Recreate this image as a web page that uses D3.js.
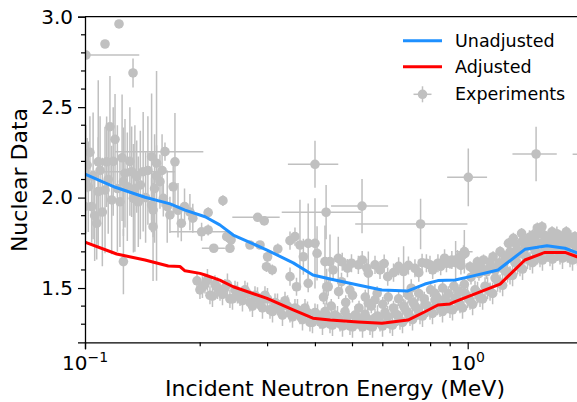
<!DOCTYPE html>
<html>
<head>
<meta charset="utf-8">
<script src="https://cdn.jsdelivr.net/npm/d3@7"></script>
<style>
body { margin: 0; background: white; }
svg { display: block; font-family: "DejaVu Sans", sans-serif; }
</style>
</head>
<body>
<svg id="chart" width="577" height="402"></svg>
<script>
// calculated curves (energy in MeV)
const unadjE = [0.100, 0.120, 0.1435, 0.167, 0.1825, 0.206, 0.225, 0.244, 0.299, 0.350, 0.394, 0.437, 0.517, 0.597, 0.698, 0.773, 0.836, 0.927, 1.014, 1.200, 1.411, 1.611, 1.796, 1.931, 2.0]
const unadjV = [2.130, 2.057, 2.002, 1.965, 1.931, 1.894, 1.849, 1.793, 1.710, 1.639, 1.572, 1.550, 1.517, 1.489, 1.484, 1.522, 1.541, 1.544, 1.563, 1.600, 1.714, 1.734, 1.720, 1.694, 1.680]

const adjE = [0.100, 0.121, 0.1435, 0.165, 0.177, 0.1825, 0.1997, 0.206, 0.225, 0.244, 0.299, 0.350, 0.394, 0.437, 0.517, 0.597, 0.698, 0.773, 0.836, 0.899, 0.927, 1.215, 1.411, 1.592, 1.796, 1.931, 2.0]
const adjV = [1.753, 1.688, 1.655, 1.622, 1.619, 1.595, 1.581, 1.572, 1.544, 1.507, 1.443, 1.379, 1.333, 1.323, 1.312, 1.305, 1.323, 1.369, 1.406, 1.412, 1.425, 1.522, 1.655, 1.697, 1.697, 1.673, 1.660]

// experiments: [energy, value, energy error, value error]
const expSparse = [
    [0.1006, 2.788, 0.038, 0], [0.1128, 2.849, 0, 0], [0.1227, 2.960, 0, 0], [0.1335, 2.689, 0, 0.08],
    [0.1618, 2.254, 0.042, 0.05], [0.1419, 2.143, 0.03, 0.33], [0.2017, 1.811, 0.035, 0.05],
    [0.2826, 1.891, 0.04, 0], [0.399, 2.184, 0.06, 0.13], [0.4266, 1.919, 0.1, 0.15],
    [0.5295, 1.953, 0.09, 0.15], [0.7532, 1.854, 0.245, 0.14], [1.0036, 2.112, 0.12, 0.16],
    [1.509, 2.241, 0.2, 0.15], [2.10, 2.24, 0.22, 0.15], [0.98, 1.701, 0.05, 0.12],
    [0.93, 1.64, 0, 0.12], [0.217, 1.720, 0.015, 0.02]
]

const expLowEnergy = [
    [0.1013, 2.180, 0, 0.15], [0.1020, 2.060, 0, 0.25], [0.1000, 1.950, 0, 0.25], [0.1041, 1.950, 0, 0.20],
    [0.1073, 1.858, 0, 0.20], [0.1083, 2.198, 0, 0.45], [0.1083, 2.033, 0, 0.30], [0.1128, 2.042, 0, 0.35],
    [0.1139, 2.198, 0, 0.25], [0.1162, 2.392, 0, 0.28], [0.1174, 1.987, 0, 0.30], [0.1198, 2.322, 0, 0.25],
    [0.1234, 1.977, 0, 0.25], [0.1260, 2.088, 0, 0.30], [0.1260, 1.646, 0, 0.18], [0.1272, 2.134, 0, 0.30],
    [0.1324, 2.143, 0, 0.25], [0.1338, 1.996, 0, 0.30], [0.1365, 2.116, 0, 0.20], [0.1378, 1.977, 0, 0.25],
    [0.1493, 2.226, 0, 0.35], [0.1493, 1.959, 0, 0.15], [0.1506, 1.931, 0, 0.15], [0.1506, 1.839, 0, 0.30],
    [0.1538, 2.190, 0, 0.10], [0.1538, 2.120, 0, 0.58], [0.1570, 2.088, 0, 0.15], [0.1602, 1.996, 0, 0.10],
    [0.1667, 1.904, 0, 0.10], [0.1718, 2.198, 0, 0.27], [0.1785, 1.858, 0, 0.10], [0.1913, 1.886, 0, 0.08],
    [0.1005, 2.100, 0, 0.30], [0.1030, 2.250, 0, 0.20], [0.1050, 2.120, 0, 0.35], [0.1060, 1.900, 0, 0.25],
    [0.1095, 2.150, 0, 0.30], [0.1110, 1.920, 0, 0.30], [0.1150, 2.100, 0, 0.30], [0.1185, 2.200, 0, 0.30],
    [0.1215, 2.050, 0, 0.35], [0.1250, 2.220, 0, 0.35], [0.1290, 2.060, 0, 0.30], [0.1310, 2.200, 0, 0.30],
    [0.1350, 2.050, 0, 0.35], [0.1395, 2.070, 0, 0.30], [0.1440, 2.000, 0, 0.25], [0.1460, 2.150, 0, 0.30],
    [0.1520, 2.050, 0, 0.30], [0.1590, 2.150, 0, 0.20], [0.1640, 1.950, 0, 0.20], [0.1700, 2.060, 0, 0.15],
    [0.1750, 1.930, 0, 0.15], [0.1820, 1.950, 0, 0.10], [0.1880, 1.920, 0, 0.10]
]

const expMidEnergy = [
    [0.2293, 1.983, 0, 0.03], [0.2098, 1.917, 0, 0.03], [0.294, 1.871, 0, 0], [0.2098, 1.821, 0, 0.03],
    [0.2346, 1.784, 0, 0.03], [0.2408, 1.766, 0, 0], [0.2392, 1.720, 0, 0], [0.2698, 1.738, 0, 0],
    [0.2866, 1.738, 0, 0], [0.3190, 1.716, 0, 0.03], [0.3433, 1.762, 0, 0.05], [0.3537, 1.784, 0, 0.05],
    [0.3645, 1.738, 0, 0.25], [0.3830, 1.747, 0, 0.22], [0.3990, 1.747, 0, 0.25], [0.372, 1.673, 0, 0.10],
    [0.300, 1.673, 0, 0.03], [0.404, 1.692, 0, 0.15], [0.4237, 1.646, 0, 0.20], [0.3085, 1.600, 0, 0.03],
    [0.2980, 1.618, 0, 0.03], [0.3433, 1.563, 0, 0.05], [0.383, 1.526, 0, 0.05], [0.357, 1.507, 0, 0.05],
    [0.428, 1.507, 0, 0.10], [0.4367, 1.646, 0, 0.15], [0.459, 1.664, 0, 0.12], [0.497, 1.637, 0, 0.05],
    [0.518, 1.628, 0, 0.05], [0.550, 1.582, 0, 0.12], [0.5725, 1.628, 0, 0.05], [0.618, 1.563, 0, 0.05],
    [0.680, 1.591, 0, 0.14], [0.728, 1.609, 0, 0.05], [0.780, 1.637, 0, 0.05], [0.836, 1.637, 0, 0.05],
    [0.909, 1.655, 0, 0.05], [0.432, 1.507, 0, 0.05], [0.468, 1.535, 0, 0.05], [0.712, 1.499, 0, 0.05],
    [0.821, 1.471, 0, 0.05], [0.797, 1.628, 0, 0.05], [0.88, 1.637, 0, 0.05], [0.975, 1.686, 0, 0.05],
    [0.492, 1.489, 0, 0.04], [0.5725, 1.434, 0, 0.04], [0.550, 1.416, 0, 0.04]
]

const expUpperFill = [
    [0.445, 1.600, 0, 0.05], [0.470, 1.645, 0, 0.05], [0.485, 1.610, 0, 0.05], [0.530, 1.655, 0, 0.05],
    [0.545, 1.610, 0, 0.05], [0.590, 1.600, 0, 0.05], [0.605, 1.635, 0, 0.05], [0.640, 1.585, 0, 0.05],
    [0.660, 1.620, 0, 0.05], [0.700, 1.625, 0, 0.05], [0.745, 1.585, 0, 0.05], [0.760, 1.640, 0, 0.05],
    [0.810, 1.600, 0, 0.05], [0.850, 1.620, 0, 0.05], [0.870, 1.665, 0, 0.05], [0.940, 1.660, 0, 0.05],
    [0.960, 1.625, 0, 0.05]
]

const expMidFill = [
    [0.42, 1.45, 0, 0.04], [0.44, 1.40, 0, 0.04], [0.46, 1.48, 0, 0.04], [0.48, 1.42, 0, 0.04],
    [0.50, 1.46, 0, 0.04], [0.52, 1.39, 0, 0.04], [0.54, 1.45, 0, 0.04], [0.56, 1.40, 0, 0.04],
    [0.58, 1.47, 0, 0.04], [0.60, 1.41, 0, 0.04], [0.62, 1.45, 0, 0.04], [0.64, 1.39, 0, 0.04],
    [0.66, 1.44, 0, 0.04], [0.68, 1.40, 0, 0.04], [0.70, 1.46, 0, 0.04], [0.72, 1.42, 0, 0.04],
    [0.745, 1.47, 0, 0.04], [0.77, 1.44, 0, 0.04], [0.80, 1.49, 0, 0.04], [0.83, 1.45, 0, 0.04],
    [0.86, 1.50, 0, 0.04], [0.89, 1.47, 0, 0.04], [0.92, 1.51, 0, 0.04], [0.95, 1.48, 0, 0.04],
    [0.98, 1.52, 0, 0.04]
]

const expHighEnergy = [
    [0.899, 1.637, 0, 0.03], [0.955, 1.673, 0, 0.03], [0.984, 1.692, 0, 0.03], [1.014, 1.618, 0, 0.03],
    [1.06, 1.645, 0, 0.03], [1.10, 1.655, 0, 0.03], [1.144, 1.644, 0, 0.03], [1.165, 1.673, 0, 0.03],
    [1.215, 1.701, 0, 0.03], [1.24, 1.637, 0, 0.03], [1.25, 1.676, 0, 0.03], [1.278, 1.747, 0, 0.03],
    [1.316, 1.775, 0, 0.03], [1.345, 1.710, 0, 0.03], [1.383, 1.802, 0, 0.03], [1.43, 1.756, 0, 0.03],
    [1.479, 1.793, 0, 0.03], [1.52, 1.832, 0, 0.03], [1.563, 1.839, 0, 0.03], [1.62, 1.766, 0, 0.03],
    [1.661, 1.811, 0, 0.03], [1.72, 1.777, 0, 0.03], [1.81, 1.811, 0, 0.03], [1.85, 1.750, 0, 0.03],
    [1.907, 1.784, 0, 0.03],
    [1.02, 1.56, 0, 0.04], [1.04, 1.60, 0, 0.04], [1.07, 1.58, 0, 0.04], [1.09, 1.61, 0, 0.04],
    [1.12, 1.59, 0, 0.04], [1.15, 1.62, 0, 0.04], [1.18, 1.60, 0, 0.04], [1.21, 1.64, 0, 0.04],
    [1.23, 1.61, 0, 0.04], [1.26, 1.66, 0, 0.04], [1.29, 1.70, 0, 0.04], [1.31, 1.66, 0, 0.04],
    [1.34, 1.74, 0, 0.04], [1.36, 1.69, 0, 0.04], [1.39, 1.76, 0, 0.04], [1.41, 1.72, 0, 0.04],
    [1.45, 1.78, 0, 0.04], [1.47, 1.73, 0, 0.04], [1.50, 1.76, 0, 0.04], [1.53, 1.80, 0, 0.04],
    [1.56, 1.75, 0, 0.04], [1.59, 1.79, 0, 0.04], [1.62, 1.74, 0, 0.04], [1.65, 1.78, 0, 0.04],
    [1.68, 1.75, 0, 0.04], [1.71, 1.80, 0, 0.04], [1.75, 1.74, 0, 0.04], [1.78, 1.79, 0, 0.04],
    [1.82, 1.76, 0, 0.04], [1.86, 1.78, 0, 0.04], [1.90, 1.74, 0, 0.04], [1.95, 1.76, 0, 0.04],
    [1.98, 1.72, 0, 0.04]
]

const expBand = [
    [0.1962, 1.54, 0, 0.05], [0.1997, 1.49, 0, 0.05], [0.2058, 1.52, 0, 0.05], [0.2121, 1.46, 0, 0.05],
    [0.2186, 1.52, 0, 0.05], [0.2253, 1.48, 0, 0.05], [0.2321, 1.50, 0, 0.05], [0.2392, 1.44, 0, 0.05],
    [0.2466, 1.49, 0, 0.05], [0.2541, 1.45, 0, 0.05], [0.2618, 1.49, 0, 0.05], [0.2698, 1.42, 0, 0.05],
    [0.2781, 1.46, 0, 0.05], [0.2866, 1.42, 0, 0.05], [0.2953, 1.46, 0, 0.05], [0.3044, 1.38, 0, 0.05],
    [0.3137, 1.42, 0, 0.05], [0.3232, 1.38, 0, 0.05], [0.3331, 1.43, 0, 0.05], [0.3433, 1.36, 0, 0.05],
    [0.3537, 1.39, 0, 0.05], [0.3645, 1.35, 0, 0.05], [0.3757, 1.39, 0, 0.05], [0.3871, 1.31, 0, 0.05],
    [0.3990, 1.365, 0, 0.05], [0.4112, 1.325, 0, 0.05], [0.4237, 1.37, 0, 0.05], [0.4367, 1.30, 0, 0.05],
    [0.4500, 1.35, 0, 0.05], [0.4638, 1.31, 0, 0.05], [0.4779, 1.37, 0, 0.05], [0.4925, 1.29, 0, 0.05],
    [0.5076, 1.35, 0, 0.05], [0.5231, 1.31, 0, 0.05], [0.5391, 1.355, 0, 0.05], [0.5555, 1.29, 0, 0.05],
    [0.5725, 1.335, 0, 0.05], [0.5900, 1.31, 0, 0.05], [0.6080, 1.365, 0, 0.05], [0.6266, 1.30, 0, 0.05],
    [0.6457, 1.36, 0, 0.05], [0.6654, 1.32, 0, 0.05], [0.6857, 1.385, 0, 0.05], [0.7067, 1.34, 0, 0.05],
    [0.7283, 1.40, 0, 0.05], [0.7505, 1.35, 0, 0.05], [0.7734, 1.41, 0, 0.05], [0.7971, 1.375, 0, 0.05],
    [0.8214, 1.435, 0, 0.05], [0.8465, 1.39, 0, 0.05], [0.8724, 1.44, 0, 0.05], [0.8990, 1.385, 0, 0.05],
    [0.9265, 1.445, 0, 0.05], [0.9548, 1.41, 0, 0.05], [0.9839, 1.47, 0, 0.05], [1.014, 1.43, 0, 0.05],
    [1.045, 1.49, 0, 0.05], [1.077, 1.445, 0, 0.05], [1.110, 1.51, 0, 0.05], [1.144, 1.48, 0, 0.05],
    [1.179, 1.555, 0, 0.05], [1.215, 1.525, 0, 0.05], [1.252, 1.595, 0, 0.05], [1.290, 1.57, 0, 0.05],
    [1.329, 1.64, 0, 0.05], [1.370, 1.615, 0, 0.05], [1.411, 1.68, 0, 0.05], [1.455, 1.65, 0, 0.05],
    [1.499, 1.71, 0, 0.05], [1.545, 1.665, 0, 0.05], [1.592, 1.715, 0, 0.05], [1.641, 1.67, 0, 0.05],
    [1.691, 1.725, 0, 0.05], [1.743, 1.68, 0, 0.05], [1.796, 1.73, 0, 0.05], [1.851, 1.665, 0, 0.05],
    [1.907, 1.70, 0, 0.05], [1.965, 1.655, 0, 0.05]
]

const expBand2 = [
    [0.2027, 1.505, 0, 0.06], [0.2089, 1.545, 0, 0.06], [0.2153, 1.455, 0, 0.06], [0.2219, 1.500, 0, 0.06],
    [0.2287, 1.465, 0, 0.06], [0.2356, 1.520, 0, 0.06], [0.2429, 1.440, 0, 0.06], [0.2503, 1.475, 0, 0.06],
    [0.2579, 1.430, 0, 0.06], [0.2657, 1.470, 0, 0.06], [0.2739, 1.400, 0, 0.06], [0.2823, 1.445, 0, 0.06],
    [0.2909, 1.390, 0, 0.06], [0.2998, 1.440, 0, 0.06], [0.3090, 1.370, 0, 0.06], [0.3184, 1.410, 0, 0.06],
    [0.3281, 1.350, 0, 0.06], [0.3382, 1.400, 0, 0.06], [0.3485, 1.340, 0, 0.06], [0.3591, 1.380, 0, 0.06],
    [0.3701, 1.325, 0, 0.06], [0.3814, 1.365, 0, 0.06], [0.3930, 1.310, 0, 0.06], [0.4051, 1.350, 0, 0.06],
    [0.4174, 1.300, 0, 0.06], [0.4302, 1.345, 0, 0.06], [0.4433, 1.295, 0, 0.06], [0.4569, 1.340, 0, 0.06],
    [0.4708, 1.290, 0, 0.06], [0.4852, 1.340, 0, 0.06], [0.5000, 1.285, 0, 0.06], [0.5153, 1.335, 0, 0.06],
    [0.5311, 1.285, 0, 0.06], [0.5473, 1.330, 0, 0.06], [0.5640, 1.285, 0, 0.06], [0.5812, 1.345, 0, 0.06],
    [0.5990, 1.290, 0, 0.06], [0.6173, 1.340, 0, 0.06], [0.6361, 1.295, 0, 0.06], [0.6555, 1.350, 0, 0.06],
    [0.6755, 1.310, 0, 0.06], [0.6962, 1.365, 0, 0.06], [0.7175, 1.325, 0, 0.06], [0.7394, 1.385, 0, 0.06],
    [0.7619, 1.345, 0, 0.06], [0.7852, 1.400, 0, 0.06], [0.8092, 1.360, 0, 0.06], [0.8339, 1.410, 0, 0.06],
    [0.8594, 1.370, 0, 0.06], [0.8857, 1.420, 0, 0.06], [0.9127, 1.380, 0, 0.06], [0.9406, 1.435, 0, 0.06],
    [0.9694, 1.390, 0, 0.06], [0.9990, 1.450, 0, 0.06], [1.030, 1.410, 0, 0.06], [1.061, 1.475, 0, 0.06],
    [1.094, 1.440, 0, 0.06], [1.127, 1.500, 0, 0.06], [1.162, 1.470, 0, 0.06], [1.197, 1.540, 0, 0.06],
    [1.234, 1.515, 0, 0.06], [1.271, 1.590, 0, 0.06], [1.310, 1.570, 0, 0.06], [1.350, 1.635, 0, 0.06],
    [1.391, 1.605, 0, 0.06], [1.433, 1.665, 0, 0.06], [1.477, 1.640, 0, 0.06], [1.522, 1.690, 0, 0.06],
    [1.568, 1.655, 0, 0.06], [1.616, 1.705, 0, 0.06], [1.666, 1.660, 0, 0.06], [1.717, 1.710, 0, 0.06],
    [1.769, 1.665, 0, 0.06], [1.823, 1.700, 0, 0.06], [1.879, 1.655, 0, 0.06], [1.936, 1.685, 0, 0.06]
]

const xTicks = [0.1, 1]
const xTickExp = ["\u22121", "0"]
const xMinor = [0.2, 0.3, 0.4, 0.5, 0.6, 0.7, 0.8, 0.9, 2]
const yTicks = [1.5, 2.0, 2.5, 3.0]
const yMinor = [1.3, 1.4, 1.6, 1.7, 1.8, 1.9, 2.1, 2.2, 2.3, 2.4, 2.6, 2.7, 2.8, 2.9]

const plotLeft = 85, plotTop = 16.7, plotBottom = 342.3
const decade = 382.7
const plotRight = plotLeft + decade * Math.log10(20)
const grey = "#c0c0c0"
const blue = "#1e90ff"

const svg = d3.select("#chart")

const x = d3.scaleLog().domain([0.1, 2]).range([plotLeft, plotRight])
const y = d3.scaleLinear().domain([1.2, 3.0]).range([plotBottom, plotTop])

svg.append("defs").append("clipPath").attr("id", "plotClip")
    .append("rect")
    .attr("x", plotLeft).attr("y", plotTop)
    .attr("width", plotRight - plotLeft).attr("height", plotBottom - plotTop)

const plot = svg.append("g").attr("clip-path", "url(#plotClip)")

const allExp = [].concat(expSparse, expLowEnergy, expMidEnergy, expUpperFill, expMidFill,
    expHighEnergy, expBand, expBand2)

// error bars first, markers on top
const bars = plot.append("g")
    .attr("stroke", grey)
    .attr("stroke-width", 1.5)

bars.selectAll("line.yerr")
    .data(allExp.filter(d => d[3] > 0))
    .join("line")
    .attr("class", "yerr")
    .attr("x1", d => x(d[0])).attr("x2", d => x(d[0]))
    .attr("y1", d => y(d[1] - d[3])).attr("y2", d => y(d[1] + d[3]))

bars.selectAll("line.xerr")
    .data(allExp.filter(d => d[2] > 0))
    .join("line")
    .attr("class", "xerr")
    .attr("x1", d => x(Math.max(d[0] - d[2], 0.05))).attr("x2", d => x(d[0] + d[2]))
    .attr("y1", d => y(d[1])).attr("y2", d => y(d[1]))

plot.append("g")
    .selectAll("circle")
    .data(allExp)
    .join("circle")
    .attr("cx", d => x(d[0]))
    .attr("cy", d => y(d[1]))
    .attr("r", 4.8)
    .attr("fill", grey)

const line = d3.line().x(d => x(d[0])).y(d => y(d[1]))

plot.append("path")
    .datum(d3.zip(unadjE, unadjV))
    .attr("d", line)
    .attr("fill", "none")
    .attr("stroke", blue)
    .attr("stroke-width", 3)
    .attr("stroke-linejoin", "round")

plot.append("path")
    .datum(d3.zip(adjE, adjV))
    .attr("d", line)
    .attr("fill", "none")
    .attr("stroke", "red")
    .attr("stroke-width", 3)
    .attr("stroke-linejoin", "round")

// axes
const yAxis = svg.append("g").attr("transform", `translate(${plotLeft},0)`)
    .call(d3.axisLeft(y).tickValues(yTicks).tickFormat(d3.format(".1f")).tickSize(7).tickPadding(5))
yAxis.append("g").selectAll("line")
    .data(yMinor)
    .join("line")
    .attr("x1", -4).attr("x2", 0)
    .attr("y1", d => y(d)).attr("y2", d => y(d))
    .attr("stroke", "black").attr("stroke-width", 1.2)
yAxis.selectAll(".tick line").attr("stroke-width", 1.2)
yAxis.selectAll(".tick text")
    .attr("font-size", 20).attr("font-family", "DejaVu Sans").attr("fill", "black")
yAxis.select(".domain").attr("stroke-width", 1.3)

const xAxis = svg.append("g").attr("transform", `translate(0,${plotBottom})`)
    .call(d3.axisBottom(x).tickValues(xTicks).tickFormat("").tickSize(7))
xAxis.append("g").selectAll("line")
    .data(xMinor)
    .join("line")
    .attr("x1", d => x(d)).attr("x2", d => x(d))
    .attr("y1", 0).attr("y2", 4)
    .attr("stroke", "black").attr("stroke-width", 1.2)
xAxis.selectAll(".tick line").attr("stroke-width", 1.2)
xAxis.select(".domain").attr("stroke-width", 1.3)

xTicks.forEach((t, i) => {
    const label = svg.append("text")
        .attr("x", x(t))
        .attr("y", 370)
        .attr("text-anchor", "middle")
        .attr("font-size", 20)
        .attr("fill", "black")
    label.append("tspan").text("10")
    label.append("tspan").attr("dy", -8).attr("font-size", 14).text(xTickExp[i])
})

// top spine
svg.append("line")
    .attr("x1", plotLeft).attr("x2", plotRight)
    .attr("y1", plotTop).attr("y2", plotTop)
    .attr("stroke", "black").attr("stroke-width", 1.3)

svg.append("text")
    .attr("transform", "translate(27,180) rotate(-90)")
    .attr("text-anchor", "middle")
    .attr("font-size", 22)
    .attr("fill", "black")
    .text("Nuclear Data")

svg.append("text")
    .attr("x", 335)
    .attr("y", 396)
    .attr("text-anchor", "middle")
    .attr("font-size", 22)
    .attr("fill", "black")
    .text("Incident Neutron Energy (MeV)")

// legend
const legend = svg.append("g")
const legendX = 403, legendTextX = 455
const legendRows = [
    {label: "Unadjusted", color: blue, y: 40.7},
    {label: "Adjusted", color: "red", y: 66.7},
    {label: "Experiments", color: grey, y: 94.3}
]

legendRows.forEach((row, i) => {
    if (i < 2) {
        legend.append("line")
            .attr("x1", legendX).attr("x2", legendX + 39)
            .attr("y1", row.y).attr("y2", row.y)
            .attr("stroke", row.color)
            .attr("stroke-width", 3)
    } else {
        const cx = legendX + 19.5
        legend.append("line")
            .attr("x1", cx - 9).attr("x2", cx + 9)
            .attr("y1", row.y).attr("y2", row.y)
            .attr("stroke", grey).attr("stroke-width", 1.5)
        legend.append("line")
            .attr("x1", cx).attr("x2", cx)
            .attr("y1", row.y - 8).attr("y2", row.y + 8)
            .attr("stroke", grey).attr("stroke-width", 1.5)
        legend.append("circle")
            .attr("cx", cx).attr("cy", row.y)
            .attr("r", 4.8)
            .attr("fill", grey)
    }
    legend.append("text")
        .attr("x", legendTextX)
        .attr("y", row.y + 6)
        .attr("font-size", 17.5)
        .attr("fill", "black")
        .text(row.label)
})
</script>
</body>
</html>
